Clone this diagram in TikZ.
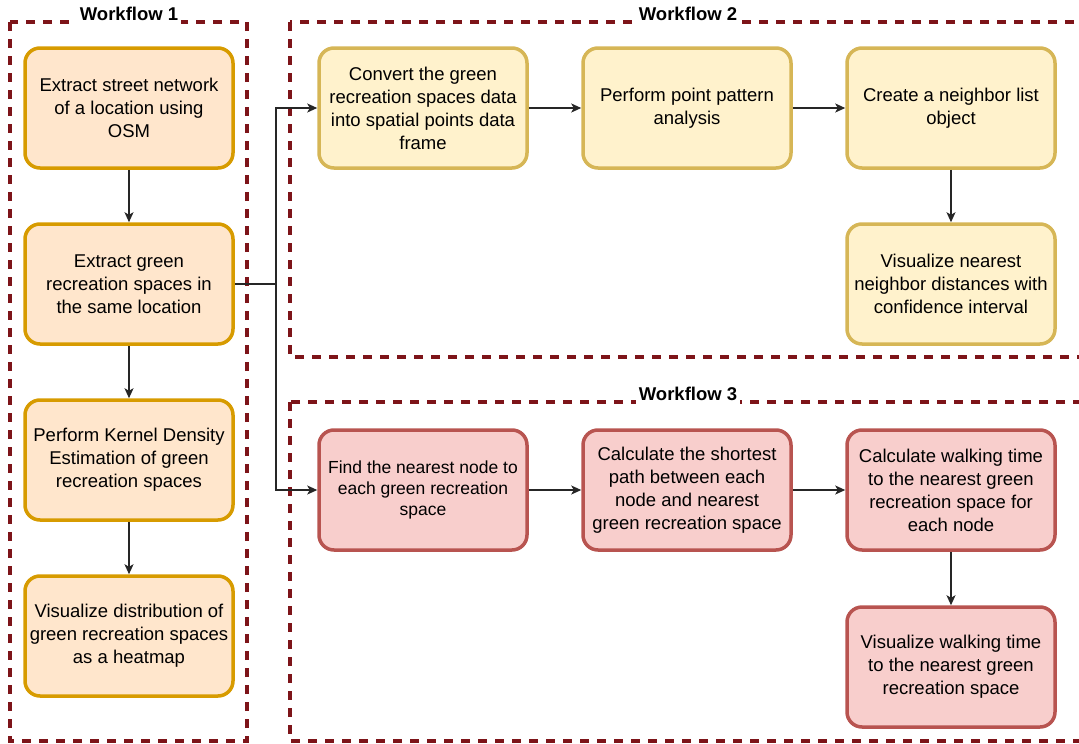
\documentclass[tikz,border=0pt]{standalone}
\usepackage{fontspec}
\setmainfont{Liberation Sans}
\usetikzlibrary{arrows.meta,positioning}

\definecolor{frameRed}{RGB}{125,20,25}
\definecolor{oneFill}{HTML}{FFE6CC}
\definecolor{oneLine}{HTML}{D79B00}
\definecolor{twoFill}{HTML}{FFF2CC}
\definecolor{twoLine}{HTML}{D6B656}
\definecolor{threeFill}{HTML}{F8CECC}
\definecolor{threeLine}{HTML}{B85450}

\tikzset{
  stepbox/.style={rounded corners=15pt, line width=3.5pt, minimum width=208pt,
    minimum height=120pt, align=center, inner sep=2pt,
    font=\fontsize{18.5}{23}\selectfont},
  wfone/.style={stepbox, fill=oneFill, draw=oneLine},
  wftwo/.style={stepbox, fill=twoFill, draw=twoLine},
  wfthree/.style={stepbox, fill=threeFill, draw=threeLine},
  frame/.style={draw=frameRed, line width=3.5pt, dash pattern=on 9pt off 8pt},
  title/.style={fill=white, inner sep=3pt, font=\fontsize{18.5}{20}\bfseries\selectfont},
  link/.style={line width=1.3pt, draw=black!85, -{Stealth[length=10pt,width=9pt,inset=2.5pt]}},
  plain/.style={line width=1.3pt, draw=black!85}
}

\begin{document}
\begin{tikzpicture}[x=1pt, y=-1pt]
            \useasboundingbox (0,0) rectangle (1079,744);
            % workflow frames
            \draw[frame] (10,22) rectangle (247,741);
            \draw[frame] (290,22) rectangle (1095,357);
            \draw[frame] (290,402) rectangle (1095,741);
            \node[title] (t1) at (129,14) {Workflow 1};
            \node[title] (t2) at (688,14) {Workflow 2};
            \node[title] (t3) at (688,394) {Workflow 3};

            % workflow 1
            \node[wfone] (a1) at (129,108) {Extract street network\\of a location using\\OSM};
            \node[wfone] (a2) at (129,284) {Extract green\\recreation spaces in\\the same location};
            \node[wfone] (a3) at (129,460) {Perform Kernel Density\\Estimation of green\\recreation spaces};
            \node[wfone] (a4) at (129,636) {Visualize distribution of\\green recreation spaces\\as a heatmap};

            % workflow 2
            \node[wftwo] (b1) at (423,108) {Convert the green\\recreation spaces data\\into spatial points data\\frame};
            \node[wftwo] (b2) at (687,108) {Perform point pattern\\analysis};
            \node[wftwo] (b3) at (951,108) {Create a neighbor list\\object};
            \node[wftwo] (b4) at (951,284) {Visualize nearest\\neighbor distances with\\confidence interval};

            % workflow 3
            \node[wfthree, font=\fontsize{17.5}{21}\selectfont] (c1) at (423,490) {Find the nearest node to\\each green recreation\\space};
            \node[wfthree] (c2) at (687,490) {Calculate the shortest\\path between each\\node and nearest\\green recreation space};
            \node[wfthree] (c3) at (951,490) {Calculate walking time\\to the nearest green\\recreation space for\\each node};
            \node[wfthree] (c4) at (951,667) {Visualize walking time\\to the nearest green\\recreation space};

            \coordinate (split) at (276,284);

            \draw[link] (a1) -- (a2);
            \draw[link] (a2) -- (a3);
            \draw[link] (a3) -- (a4);
            \draw[plain] (a2.east) -- (split);
            \draw[link] (split) |- (b1.west);
            \draw[link] (split) |- (c1.west);

            \draw[link] (b1) -- (b2);
            \draw[link] (b2) -- (b3);
            \draw[link] (b3) -- (b4);

            \draw[link] (c1) -- (c2);
            \draw[link] (c2) -- (c3);
            \draw[link] (c3) -- (c4);
        \end{tikzpicture}
\end{document}
